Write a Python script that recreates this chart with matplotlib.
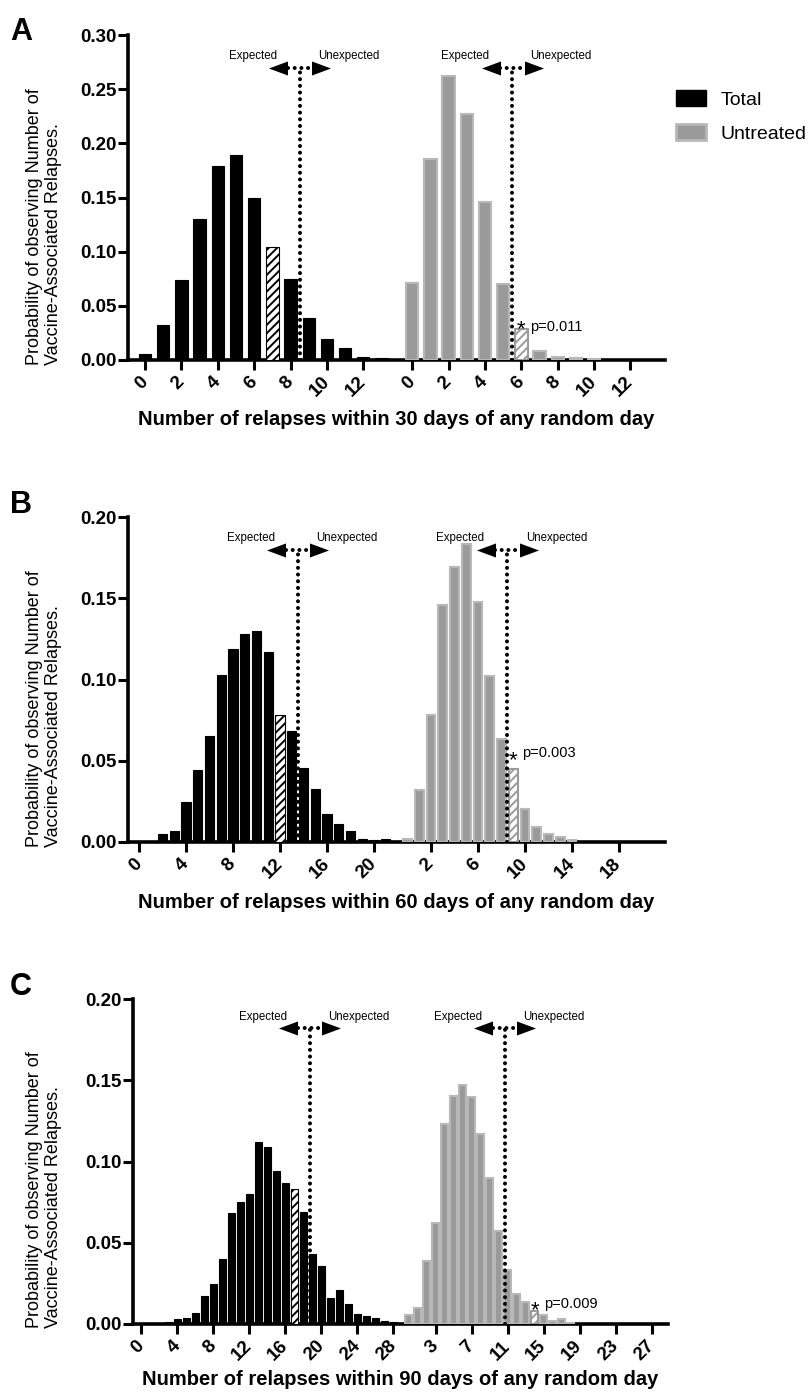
import matplotlib
matplotlib.use('Agg')
import matplotlib.pyplot as plt
from matplotlib.patches import Patch
from matplotlib.ticker import FormatStrFormatter
import numpy as np

plt.rcParams['font.family'] = ['Liberation Sans', 'DejaVu Sans']
plt.rcParams['hatch.linewidth'] = 1.4

# ---- data (probabilities) ----
# A: 30 days
a_total = [0.006, 0.032, 0.074, 0.130, 0.179, 0.189, 0.150, 0.104, 0.075, 0.039,
           0.019, 0.011, 0.003, 0.0015]
a_untreated = [0.0715, 0.186, 0.262, 0.227, 0.146, 0.070, 0.029, 0.008, 0.003, 0.002, 0.001]
a_total_ticks = [0, 2, 4, 6, 8, 10, 12]
a_untreated_ticks = [0, 2, 4, 6, 8, 10, 12]

# B: 60 days
b_total = [0, 0, 0.0047, 0.007, 0.0246, 0.0445, 0.065, 0.103, 0.119, 0.128, 0.130,
           0.117, 0.078, 0.0685, 0.0457, 0.0328, 0.017, 0.011, 0.0068, 0.002, 0.0015,
           0.002, 0.0005]
b_untreated = [0.002, 0.032, 0.078, 0.146, 0.169, 0.1836, 0.148, 0.102, 0.0636, 0.045,
               0.0205, 0.0092, 0.0047, 0.003, 0.0014]
b_total_ticks = [0, 4, 8, 12, 16, 20]
b_untreated_ticks = [2, 6, 10, 14, 18]

# C: 90 days
c_total = [0, 0, 0, 0.001, 0.003, 0.004, 0.0066, 0.017, 0.0244, 0.040, 0.0685, 0.075,
           0.080, 0.112, 0.109, 0.094, 0.087, 0.083, 0.0687, 0.043, 0.036, 0.016, 0.021,
           0.0123, 0.006, 0.005, 0.004, 0.0018, 0.001]
c_untreated = [0.0053, 0.010, 0.039, 0.0624, 0.123, 0.1405, 0.147, 0.140, 0.117, 0.090,
               0.057, 0.033, 0.0185, 0.0137, 0.008, 0.0055, 0.0018, 0.003, 0.0005]
c_total_ticks = [0, 4, 8, 12, 16, 20, 24, 28]
c_untreated_ticks = [3, 7, 11, 15, 19, 23, 27]

GRAY = '#9a9a9a'
GRAY_EDGE = '#b8b8b8'

fig = plt.figure(figsize=(8.09, 13.94), dpi=100)
W, H = 809.0, 1394.0


def px_axes(left, right, top, bottom):
    return fig.add_axes([left / W, 1 - bottom / H, (right - left) / W, (bottom - top) / H])


def cutoff(ax, cx, top, upx):
    dots = dict(color='black', lw=2.9, ls=(0, (0.01, 1.65)), dash_capstyle='round', zorder=5)
    ax.plot([cx, cx], [0, top], **dots)
    ax.plot([cx - 12 / upx, cx + 12 / upx], [top, top], **dots)
    left_tri = [(-1, 0), (1, 0.74), (1, -0.74), (-1, 0)]
    right_tri = [(1, 0), (-1, 0.74), (-1, -0.74), (1, 0)]
    ax.plot(cx - 21.5 / upx, top, marker=left_tri, ms=13.7, color='black', mew=0, zorder=6)
    ax.plot(cx + 21.5 / upx, top, marker=right_tri, ms=13.7, color='black', mew=0, zorder=6)
    ax.annotate('Expected', (cx, top), xytext=(-47, 11.5), textcoords='offset pixels',
                ha='center', va='center', fontsize=8.3)
    ax.annotate('Unexpected', (cx, top), xytext=(49, 11.5), textcoords='offset pixels',
                ha='center', va='center', fontsize=8.3)


def panel(ax, total, unt, unt_off, tot_hatch, unt_hatch, bw_t, bw_u, ytop,
          tot_ticks, unt_ticks, cuts, cut_top, xlim, ptxt, star_dy, p_dy, xlabel, xlab_y):
    ax.set_xlim(*xlim)
    ax.set_ylim(0, ytop)
    upx = ax.bbox.width / (xlim[1] - xlim[0])

    tx = np.arange(len(total))
    ux = unt_off + np.arange(len(unt))
    tb = ax.bar(tx, total, width=bw_t, color='black', edgecolor='black', linewidth=0.8, zorder=3)
    tb[tot_hatch].set_facecolor('white')
    tb[tot_hatch].set_hatch('////')
    ub = ax.bar(ux, unt, width=bw_u, color=GRAY, edgecolor=GRAY_EDGE, linewidth=1.5, zorder=3)
    ub[unt_hatch].set_facecolor('white')
    ub[unt_hatch].set_edgecolor(GRAY)
    ub[unt_hatch].set_hatch('////')

    for cx in cuts:
        cutoff(ax, cx, cut_top, upx)

    bx, by = ux[unt_hatch], unt[unt_hatch]
    ax.annotate('*', (bx, by), xytext=(0, star_dy), textcoords='offset pixels',
                ha='center', va='baseline', fontsize=16)
    ax.annotate(ptxt, (bx, by), xytext=(9, p_dy), textcoords='offset pixels',
                ha='left', va='baseline', fontsize=10.5)

    pos = list(tot_ticks) + [unt_off + t for t in unt_ticks]
    labs = [str(t) for t in tot_ticks] + [str(t) for t in unt_ticks]
    ax.set_xticks(pos)
    ax.set_xticklabels(labs, rotation=45, ha='right', va='center', rotation_mode='anchor',
                       fontweight='bold', fontsize=13.5)
    ax.set_yticks(np.arange(0, ytop + 0.001, 0.05))
    ax.yaxis.set_major_formatter(FormatStrFormatter('%.2f'))
    for lbl in ax.get_yticklabels():
        lbl.set_fontweight('bold')
        lbl.set_fontsize(13.5)
    ax.tick_params(axis='x', width=2.2, length=7, pad=7)
    ax.tick_params(axis='y', width=2.2, length=7, pad=1)
    for s in ['top', 'right']:
        ax.spines[s].set_visible(False)
    for s in ['left', 'bottom']:
        ax.spines[s].set_linewidth(2.6)
    ax.set_xlabel(xlabel, fontsize=14.5, fontweight='bold')
    ax.xaxis.set_label_coords(0.5, xlab_y)


def ylabel(bottom_px):
    fig.text(44 / W, 1 - bottom_px / H,
             'Probability of observing Number of\nVaccine-Associated Relapses.',
             rotation=90, ha='center', va='bottom', multialignment='left', fontsize=13)


axA = px_axes(128, 665, 35, 360)
panel(axA, a_total, a_untreated, 14.7, 7, 6, 0.68, 0.68, 0.30,
      a_total_ticks, a_untreated_ticks, [8.5, 14.7 + 5.5], 0.27, (-0.94, 28.6),
      'p=0.011', -7, -2.5, 'Number of relapses within 30 days of any random day', -0.154)

axB = px_axes(128, 665, 517, 842)
panel(axB, b_total, b_untreated, 22.85, 12, 9, 0.8, 0.75, 0.20,
      b_total_ticks, b_untreated_ticks, [13.5, 22.85 + 8.5], 0.18, (-0.94, 44.77),
      'p=0.003', 3, 12, 'Number of relapses within 60 days of any random day', -0.157)

axC = px_axes(133, 668, 999, 1324)
panel(axC, c_total, c_untreated, 29.7, 17, 14, 0.88, 0.8, 0.20,
      c_total_ticks, c_untreated_ticks, [18.7, 29.7 + 10.67], 0.182, (-0.94, 58.5),
      'p=0.009', -5, 3, 'Number of relapses within 90 days of any random day', -0.142)

ylabel(365)
ylabel(847)
ylabel(1328)

for letter, base in [('A', 40), ('B', 513), ('C', 995)]:
    fig.text(10 / W, 1 - base / H, letter, fontsize=22, fontweight='bold', va='baseline')

handles = [Patch(facecolor='black', edgecolor='black'),
           Patch(facecolor=GRAY, edgecolor=GRAY_EDGE, linewidth=2)]
fig.legend(handles, ['Total', 'Untreated'], loc='upper left', bbox_to_anchor=(676 / W, 1 - 90 / H),
           frameon=False, fontsize=14, handlelength=1.55, handleheight=0.88,
           handletextpad=0.72, labelspacing=0.8, borderpad=0, borderaxespad=0)

fig.savefig('out.png', dpi=100)
